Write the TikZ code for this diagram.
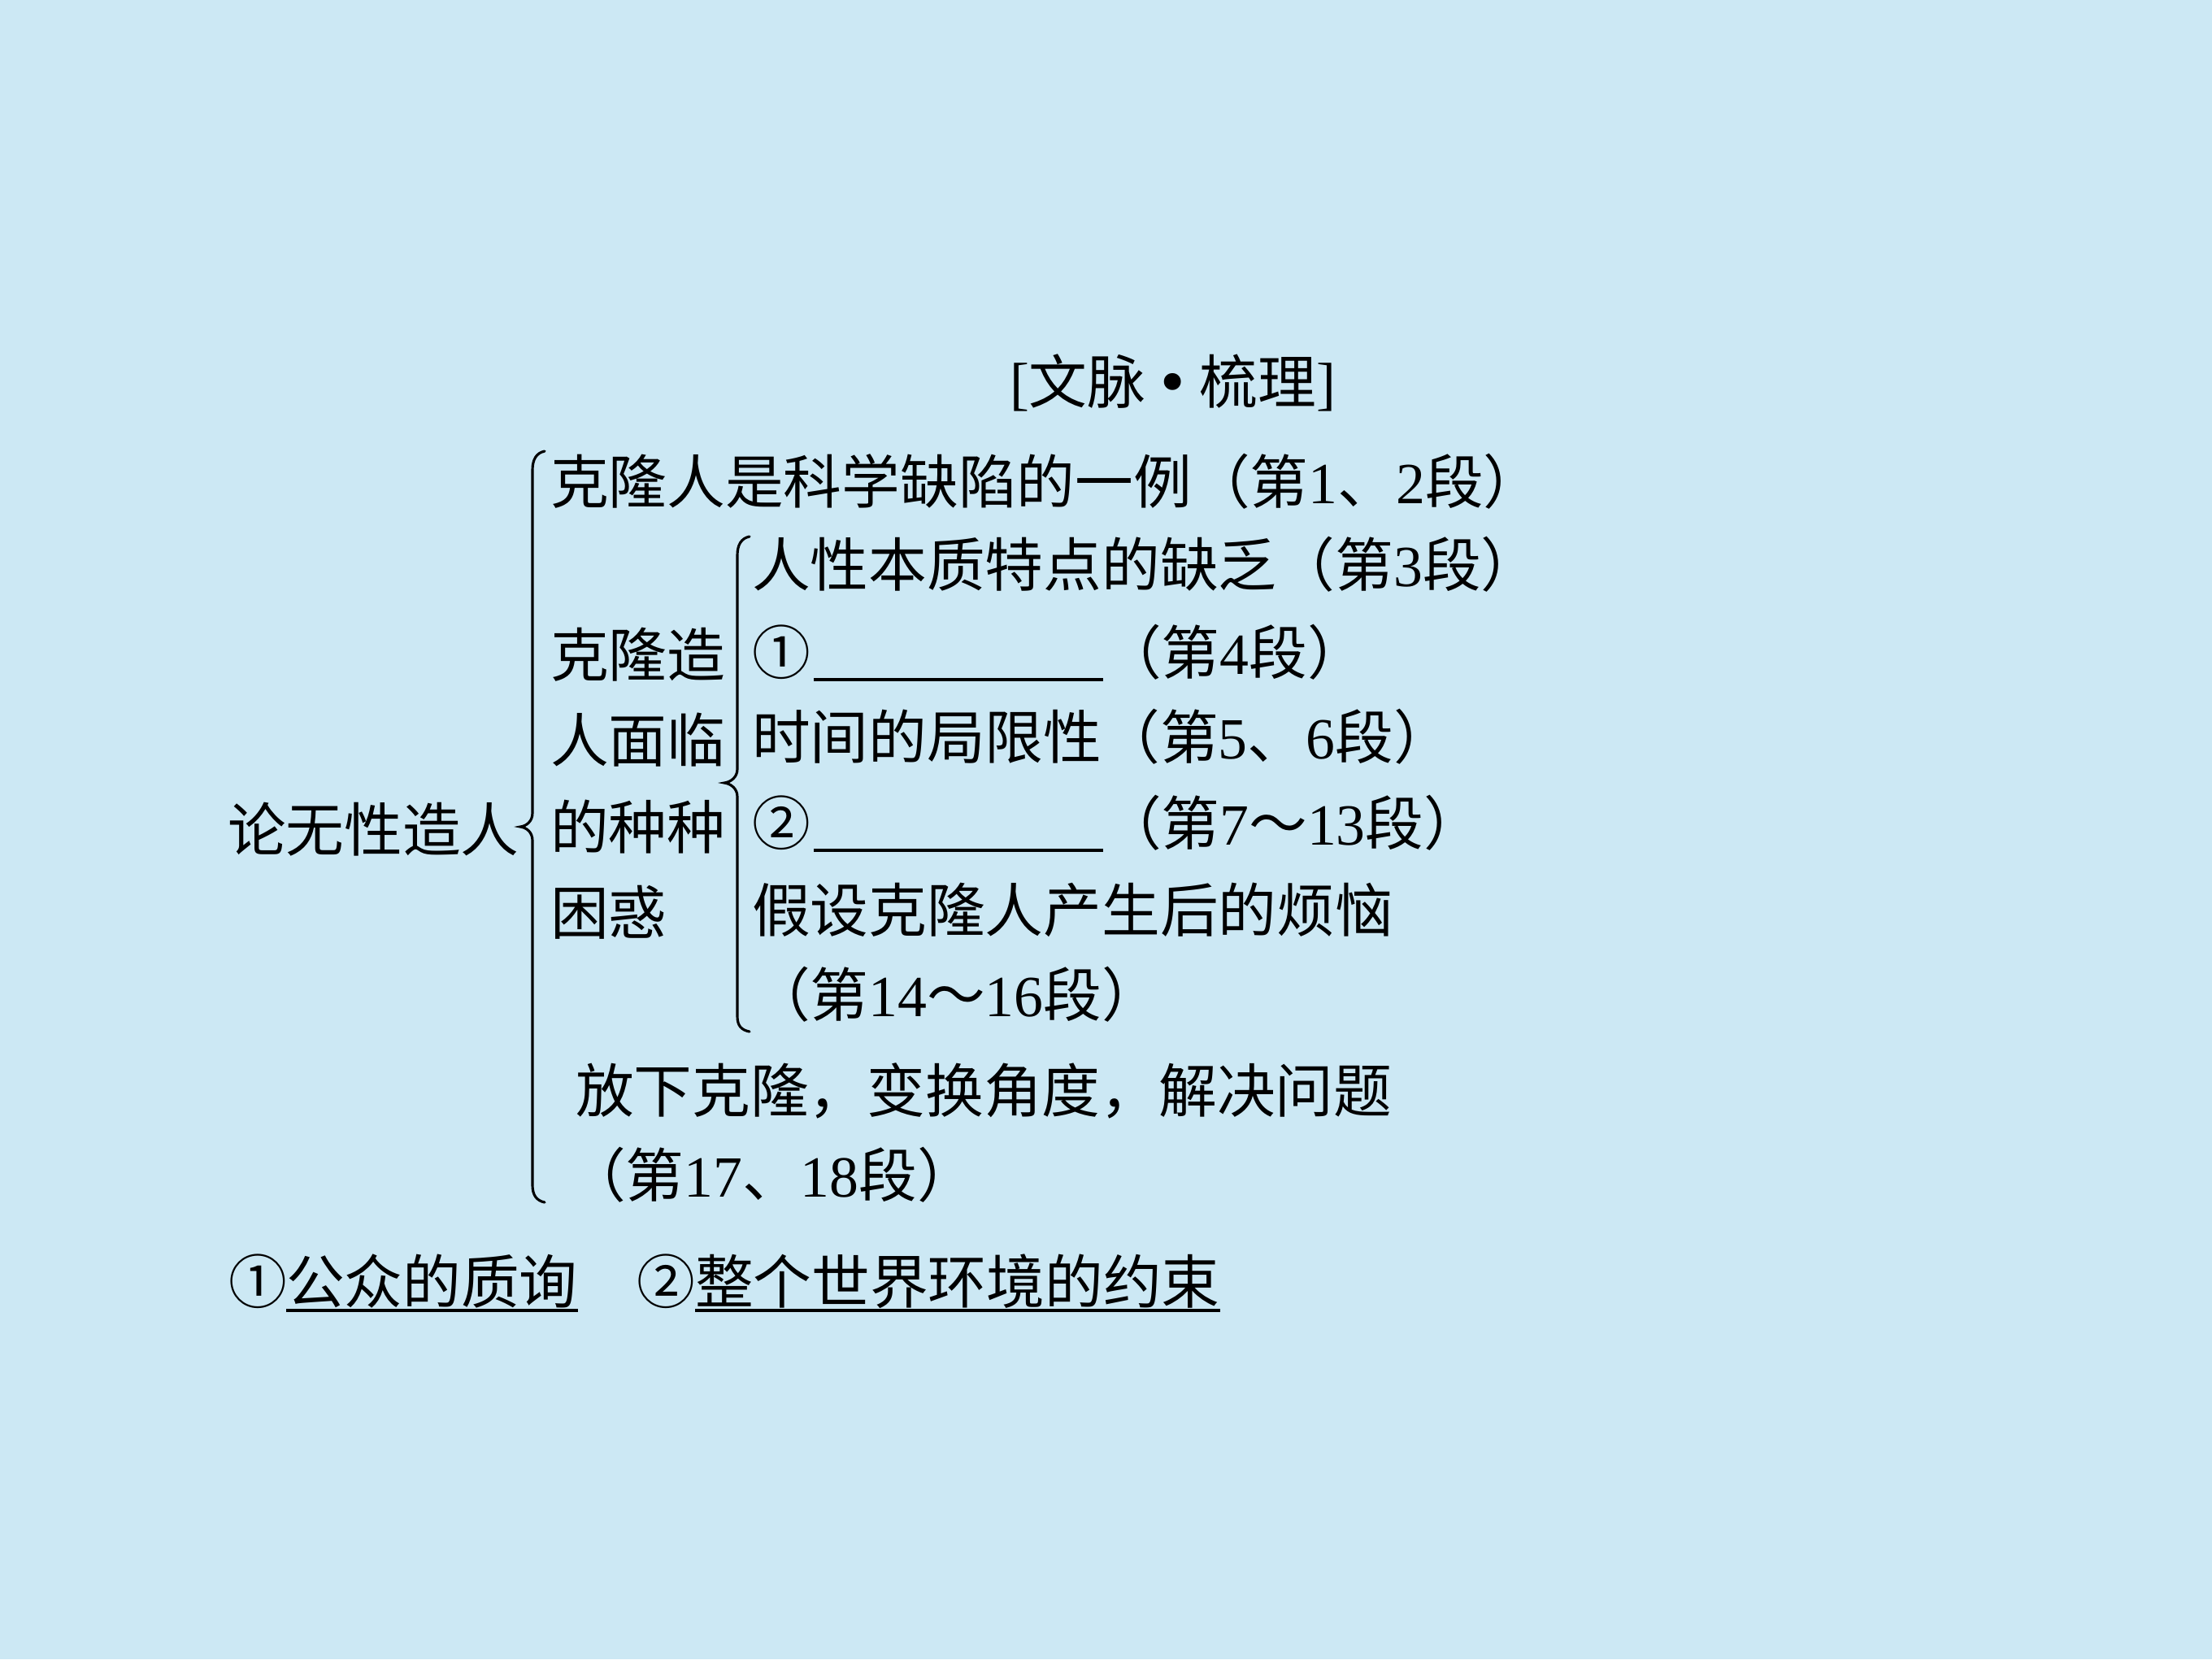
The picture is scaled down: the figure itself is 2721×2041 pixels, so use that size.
\documentclass[tikz,border=0pt]{standalone}
\usepackage{fontspec}
\setmainfont{Noto Sans CJK SC}
\newfontfamily\lat{Liberation Serif}
\newfontfamily\dv{DejaVu Sans}
\usetikzlibrary{calc}
\definecolor{bg}{RGB}{204,232,244}
\begin{document}
\begin{tikzpicture}[x=0.01cm,y=-0.01cm,
  txt/.style={anchor=base west,inner sep=0pt,outer sep=0pt,font=\fontsize{20.4pt}{24pt}\selectfont},
  bracepath/.style={line width=0.9pt,line cap=round},
  uline/.style={line width=1.1pt}]
\fill[bg] (0,0) rectangle (2721,2041);
\useasboundingbox (0,0) rectangle (2721,2041);

% title
\node[txt] (title) at (1242,496) {{\lat[}文脉{\dv\,•\,}梳理{\lat]}};

% root
\node[txt] (root) at (280,1047) {论无性造人};

% outer brace
\draw[bracepath] (670,555) .. controls (660,557) and (655,565) .. (655,578)
  -- (655,1000) .. controls (655,1010) and (648,1016) .. (640,1017)
  .. controls (648,1018) and (655,1024) .. (655,1034)
  -- (655,1458) .. controls (655,1470) and (660,1477) .. (670,1479);

% first branch
\node[txt] (b1) at (677,619) {克隆人是科学缺陷的一例（第{\lat 1}、{\lat 2}段）};

% middle branch label
\node[txt] (m1) at (677,832) {克隆造};
\node[txt] (m2) at (677,937) {人面临};
\node[txt] (m3) at (677,1044) {的种种};
\node[txt] (m4) at (677,1149) {困惑};

% inner brace
\draw[bracepath] (922,660) .. controls (912,662) and (907,670) .. (907,683)
  -- (907,946) .. controls (907,956) and (899,962) .. (891,963)
  .. controls (899,964) and (907,970) .. (907,980)
  -- (907,1250) .. controls (907,1262) and (912,1267) .. (922,1269);

% inner items
\node[txt] (i1) at (925,721) {人性本质特点的缺乏（第{\lat 3}段）};
\node[txt] (c1) at (925,829) {①};
\node[txt] (p1) at (1357,829) {（第{\lat 4}段）};
\draw[uline] ($(c1.base east)+(4,7)$) -- ($(p1.base west)+(0,7)$);
\node[txt] (i3) at (925,933) {时间的局限性（第{\lat 5}、{\lat 6}段）};
\node[txt] (c2) at (925,1039) {②};
\node[txt] (p2) at (1357,1039) {（第{\lat 7}～{\lat 13}段）};
\draw[uline] ($(c2.base east)+(4,7)$) -- ($(p2.base west)+(0,7)$);
\node[txt] (i5) at (925,1146) {假设克隆人产生后的烦恼};
\node[txt] (i5b) at (925,1250) {（第{\lat 14}～{\lat 16}段）};

% last branch
\node[txt] (b3) at (708,1368) {放下克隆，变换角度，解决问题};
\node[txt] (b3b) at (698,1472) {（第{\lat 17}、{\lat 18}段）};

% answers
\node[txt] (a1) at (281,1603) {①};
\node[txt] (a1t) at (352,1603) {公众的质询};
\node[txt] (a2) at (783,1603) {②};
\node[txt] (a2t) at (855,1603) {整个世界环境的约束};
\draw[uline] ($(a1t.base west)+(0,9)$) -- ($(a1t.base east)+(0,9)$);
\draw[uline] ($(a2t.base west)+(0,9)$) -- ($(a2t.base east)+(0,9)$);
\end{tikzpicture}
\end{document}
